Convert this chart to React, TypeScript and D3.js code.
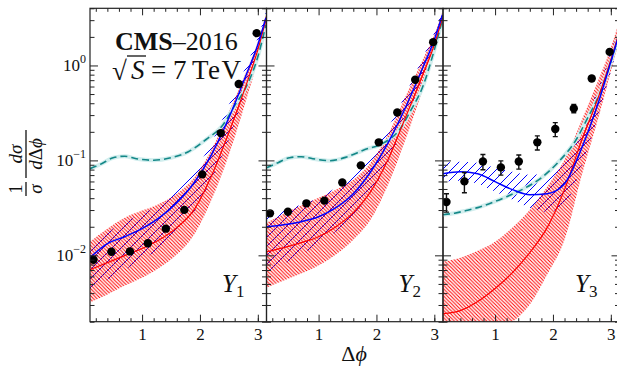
import * as d3 from 'd3'
import { useEffect, useRef } from 'react'

const WIDTH = 617
const HEIGHT = 367

// Δφ grids on which the curves were read
const modelPhi = [0.1, 0.4, 0.7, 1.0, 1.3, 1.6, 1.9, 2.2, 2.5, 2.8, 3.0, 3.14]
const tealPhi = [0.1, 0.3, 0.5, 0.7, 0.9, 1.2, 1.5, 1.8, 2.1, 2.4, 2.6, 2.8, 3.0, 3.14]
const dataPhi = [0.16, 0.47, 0.79, 1.1, 1.41, 1.73, 2.04, 2.36, 2.67, 2.98]

// Y1
const dataY1 = [0.009, 0.0109, 0.011, 0.0134, 0.0191, 0.0301, 0.0713, 0.194, 0.637, 2.19]
const errY1 = [0.0005, 0.0006, 0.0006, 0.0007, 0.001, 0.0015, 0.003, 0.008, 0.025, 0.08]
const redY1 = [0.00707, 0.00838, 0.00993, 0.0118, 0.0146, 0.0196, 0.0303, 0.069, 0.196, 0.626, 1.46, 3.03]
const redHiY1 = [0.0139, 0.0191, 0.0249, 0.0296, 0.035, 0.0446, 0.0657, 0.13, 0.326, 0.859, 1.78, 3.42]
const redLoY1 = [0.00318, 0.00386, 0.0048, 0.00582, 0.00742, 0.0102, 0.0166, 0.0386, 0.115, 0.435, 1.15, 2.68]
const blueY1 = [0.00946, 0.0133, 0.0157, 0.0191, 0.0249, 0.0359, 0.0582, 0.115, 0.281, 0.798, 1.65, 3.18]
const blueHiY1 = [0.0124, 0.0173, 0.0226, 0.0275, 0.0342, 0.0469, 0.076, 0.153, 0.386, 0.993, 1.96, 3.67]
const blueLoY1 = [0.00415, 0.00555, 0.00707, 0.009, 0.0118, 0.0169, 0.0288, 0.0627, 0.165, 0.555, 1.3, 2.88]
const tealY1 = [0.0818, 0.0923, 0.1067, 0.1107, 0.1042, 0.1005, 0.1067, 0.1235, 0.165, 0.238, 0.377, 0.597, 1.235, 2.68]

// Y2
const dataY2 = [0.0277, 0.0288, 0.0353, 0.0377, 0.0586, 0.0886, 0.155, 0.32, 0.707, 1.76]
const errY2 = [0.0012, 0.0012, 0.0014, 0.0015, 0.0022, 0.0035, 0.006, 0.012, 0.028, 0.07]
const redY2 = [0.0109, 0.01205, 0.0136, 0.0157, 0.02005, 0.0282, 0.0469, 0.102, 0.281, 0.798, 1.65, 3.18]
const redHiY2 = [0.0221, 0.0275, 0.0334, 0.0405, 0.0492, 0.0627, 0.0946, 0.187, 0.469, 1.15, 2.1, 3.67]
const redLoY2 = [0.00457, 0.00542, 0.00642, 0.0078, 0.0102, 0.0146, 0.0238, 0.0555, 0.165, 0.555, 1.3, 2.88]
const blueY2 = [0.02005, 0.021, 0.0226, 0.0255, 0.0318, 0.0446, 0.076, 0.153, 0.359, 0.946, 1.87, 3.42]
const blueHiY2 = [0.0275, 0.0303, 0.0342, 0.0405, 0.0516, 0.0707, 0.115, 0.221, 0.492, 1.21, 2.21, 3.86]
const blueLoY2 = [0.00673, 0.00818, 0.0102, 0.0133, 0.0178, 0.0268, 0.0457, 0.097, 0.255, 0.742, 1.54, 3.03]
const tealY2 = [0.0838, 0.0946, 0.1067, 0.1094, 0.1042, 0.0993, 0.1094, 0.13, 0.15, 0.211, 0.342, 0.597, 1.46, 3.03]

// Y3
const dataY3 = [0.0365, 0.0601, 0.0975, 0.0844, 0.0975, 0.155, 0.214, 0.353, 0.73, 1.39]
const errY3 = [0.008, 0.0145, 0.0178, 0.0144, 0.0165, 0.0262, 0.036, 0.035, 0.05, 0.08]
const redY3 = [0.00243, 0.00262, 0.00326, 0.00447, 0.00658, 0.0107, 0.0196, 0.0492, 0.165, 0.492, 1.15, 2.21]
const redHiY3 = [0.00859, 0.00946, 0.0112, 0.0139, 0.0196, 0.0303, 0.0529, 0.102, 0.268, 0.742, 1.54, 2.88]
const redLoY3 = [0.0013, 0.00136, 0.0015, 0.00173, 0.002, 0.00303, 0.00627, 0.0146, 0.0707, 0.303, 0.859, 1.78]
const blueY3 = [0.0724, 0.076, 0.0724, 0.0597, 0.0492, 0.0435, 0.0446, 0.0569, 0.136, 0.435, 1.09, 2.1]
const blueHiY3 = [0.0946, 0.0969, 0.0946, 0.0838, 0.076, 0.0707, 0.0743, 0.102, 0.221, 0.626, 1.39, 2.68]
const blueLoY3 = [0.0597, 0.0611, 0.0569, 0.0469, 0.0386, 0.0318, 0.0288, 0.0342, 0.0901, 0.326, 0.859, 1.78]
const tealY3 = [0.0268, 0.0278, 0.0296, 0.0318, 0.035, 0.0415, 0.0505, 0.0657, 0.097, 0.165, 0.281, 0.492, 1.09, 2.1]

const panelNames = ['1', '2', '3']
const xMajor = [1, 2, 3]
const xMinor = [0.2, 0.4, 0.6, 0.8, 1.2, 1.4, 1.6, 1.8, 2.2, 2.4, 2.6, 2.8, 3.0]
const yMajor = [0.01, 0.1, 1]
const yLabels = ['0', '−1', '−2']
const yLabelValues = [1, 0.1, 0.01]

const panels = [
  { data: dataY1, err: errY1, red: redY1, redHi: redHiY1, redLo: redLoY1, blue: blueY1, blueHi: blueHiY1, blueLo: blueLoY1, teal: tealY1 },
  { data: dataY2, err: errY2, red: redY2, redHi: redHiY2, redLo: redLoY2, blue: blueY2, blueHi: blueHiY2, blueLo: blueLoY2, teal: tealY2 },
  { data: dataY3, err: errY3, red: redY3, redHi: redHiY3, redLo: redLoY3, blue: blueY3, blueHi: blueHiY3, blueLo: blueLoY3, teal: tealY3 },
]

const SERIF = "'Liberation Serif', 'DejaVu Serif', serif"

function draw(el: SVGSVGElement) {
  const svg = d3.select(el)
  svg.selectAll('*').remove()

  const top = 8.3
  const bottom = 321.7
  const left = 90
  const panelW = 176.5

  const y = d3.scaleLog().domain([0.002, 4]).range([bottom, top])
  const yMinor = y.ticks().filter((t) => Math.abs(Math.log10(t) - Math.round(Math.log10(t))) > 1e-6)

  const defs = svg.append('defs')
  const rw = 3.6
  defs
    .append('pattern')
    .attr('id', 'hatch-red')
    .attr('patternUnits', 'userSpaceOnUse')
    .attr('width', rw)
    .attr('height', rw)
    .append('path')
    .attr('d', `M0,0L${rw},${rw}M-1,${rw - 1}L1,${rw + 1}M${rw - 1},-1L${rw + 1},1`)
    .attr('stroke', '#ff0000')
    .attr('stroke-width', 1)
  const bw = 9
  defs
    .append('pattern')
    .attr('id', 'hatch-blue')
    .attr('patternUnits', 'userSpaceOnUse')
    .attr('width', bw)
    .attr('height', bw)
    .append('path')
    .attr('d', `M0,${bw}L${bw},0M-1,1L1,-1M${bw - 1},${bw + 1}L${bw + 1},${bw - 1}`)
    .attr('stroke', '#0000ff')
    .attr('stroke-width', 1)

  panels.forEach((p, i) => {
    const x0 = left + i * panelW
    const x = d3.scaleLinear().domain([0.1, 3.15]).range([x0, x0 + panelW])
    const g = svg.append('g')

    const clipId = `clip-${i}`
    defs
      .append('clipPath')
      .attr('id', clipId)
      .append('rect')
      .attr('x', x0)
      .attr('y', top)
      .attr('width', panelW)
      .attr('height', bottom - top)
    const plot = g.append('g').attr('clip-path', `url(#${clipId})`)

    const band = (lo: number[], hi: number[]) =>
      d3
        .area<number>()
        .x((d) => x(d))
        .y0((_, j) => y(lo[j]))
        .y1((_, j) => y(hi[j]))
        .curve(d3.curveMonotoneX)(modelPhi)
    const line = (phi: number[], vals: number[]) =>
      d3
        .line<number>()
        .x((d) => x(d))
        .y((_, j) => y(vals[j]))
        .curve(d3.curveMonotoneX)(phi)

    plot.append('path').attr('d', band(p.blueLo, p.blueHi)).attr('fill', 'url(#hatch-blue)')
    plot.append('path').attr('d', band(p.redLo, p.redHi)).attr('fill', 'url(#hatch-red)')

    // teal: faint band + dashed line
    plot
      .append('path')
      .attr('d', line(tealPhi, p.teal))
      .attr('fill', 'none')
      .attr('stroke', '#d2eeee')
      .attr('stroke-width', 4)
    plot
      .append('path')
      .attr('d', line(tealPhi, p.teal))
      .attr('fill', 'none')
      .attr('stroke', '#138787')
      .attr('stroke-width', 1.6)
      .attr('stroke-dasharray', '7,4')

    plot
      .append('path')
      .attr('d', line(modelPhi, p.red))
      .attr('fill', 'none')
      .attr('stroke', '#ff0000')
      .attr('stroke-width', 1.2)
    plot
      .append('path')
      .attr('d', line(modelPhi, p.blue))
      .attr('fill', 'none')
      .attr('stroke', '#0000ff')
      .attr('stroke-width', 1.5)

    // data points with error bars
    const pts = plot
      .selectAll('g.pt')
      .data(p.data.map((v, j) => ({ phi: dataPhi[j], v, e: p.err[j] })))
      .join('g')
      .attr('class', 'pt')
    pts
      .append('path')
      .attr('d', (d) => {
        const cx = x(d.phi)
        const y1 = y(d.v + d.e)
        const y2 = y(Math.max(d.v - d.e, 1e-4))
        return `M${cx},${y1}V${y2}M${cx - 2.5},${y1}H${cx + 2.5}M${cx - 2.5},${y2}H${cx + 2.5}`
      })
      .attr('stroke', '#111')
      .attr('stroke-width', 1.4)
      .attr('fill', 'none')
    pts
      .append('circle')
      .attr('cx', (d) => x(d.phi))
      .attr('cy', (d) => y(d.v))
      .attr('r', 4.2)
      .attr('fill', '#000')

    // axes (ticks inward on all four sides)
    const tickColor = '#222'
    const styleAxis = (a: d3.Selection<SVGGElement, unknown, null, undefined>) => {
      a.select('.domain').remove()
      a.selectAll('line').attr('stroke', tickColor)
    }
    const bottomAxis = g
      .append('g')
      .attr('transform', `translate(0,${bottom})`)
      .call(d3.axisBottom(x).tickValues(xMajor).tickSize(-7).tickPadding(6).tickFormat(d3.format('d')))
      .attr('font-family', SERIF)
    bottomAxis.call(styleAxis)
    bottomAxis.selectAll('text').attr('font-family', SERIF).attr('font-size', 17).attr('fill', '#111')
    g.append('g')
      .attr('transform', `translate(0,${bottom})`)
      .call(d3.axisBottom(x).tickValues(xMinor).tickSize(-3.5).tickFormat(() => ''))
      .call(styleAxis)
    g.append('g')
      .attr('transform', `translate(0,${top})`)
      .call(d3.axisTop(x).tickValues(xMajor).tickSize(-7).tickFormat(() => ''))
      .call(styleAxis)
    g.append('g')
      .attr('transform', `translate(0,${top})`)
      .call(d3.axisTop(x).tickValues(xMinor).tickSize(-3.5).tickFormat(() => ''))
      .call(styleAxis)
    g.append('g')
      .attr('transform', `translate(${x0},0)`)
      .call(d3.axisLeft(y).tickValues(yMajor).tickSize(-8).tickFormat(() => ''))
      .call(styleAxis)
    g.append('g')
      .attr('transform', `translate(${x0},0)`)
      .call(d3.axisLeft(y).tickValues(yMinor).tickSize(-4.5).tickFormat(() => ''))
      .call(styleAxis)
    g.append('g')
      .attr('transform', `translate(${x0 + panelW},0)`)
      .call(d3.axisRight(y).tickValues(yMajor).tickSize(-8).tickFormat(() => ''))
      .call(styleAxis)
    g.append('g')
      .attr('transform', `translate(${x0 + panelW},0)`)
      .call(d3.axisRight(y).tickValues(yMinor).tickSize(-4.5).tickFormat(() => ''))
      .call(styleAxis)

    g.append('rect')
      .attr('x', x0)
      .attr('y', top)
      .attr('width', panelW)
      .attr('height', bottom - top)
      .attr('fill', 'none')
      .attr('stroke', '#222')
      .attr('stroke-width', 1.2)

    // panel name Y_i
    const name = g
      .append('text')
      .attr('x', x0 + 132)
      .attr('y', 292)
      .attr('font-family', SERIF)
      .attr('font-size', 25)
      .attr('fill', '#111')
    name.append('tspan').attr('font-style', 'italic').text('Y')
    name.append('tspan').attr('font-size', 17).attr('dy', 5).text(panelNames[i])
  })

  // y tick labels (left panel only)
  yLabelValues.forEach((v, i) => {
    const t = svg
      .append('text')
      .attr('x', 86)
      .attr('y', y(v) + 6)
      .attr('text-anchor', 'end')
      .attr('font-family', SERIF)
      .attr('font-size', 17)
      .attr('fill', '#111')
    t.append('tspan').text('10')
    t.append('tspan').attr('font-size', 12).attr('dy', -8).text(yLabels[i])
  })

  // x-axis title
  const xt = svg
    .append('text')
    .attr('x', 354)
    .attr('y', 361)
    .attr('text-anchor', 'middle')
    .attr('font-family', SERIF)
    .attr('font-size', 22)
    .attr('fill', '#111')
  xt.append('tspan').text('Δ')
  xt.append('tspan').attr('font-style', 'italic').text('ϕ')

  // y-axis title: (1/σ)(dσ/dΔφ), rotated
  const yt = svg.append('g').attr('transform', 'translate(26,163) rotate(-90)').attr('font-family', SERIF).attr('fill', '#111')
  yt.append('line').attr('x1', -33).attr('x2', -19).attr('y1', 0).attr('y2', 0).attr('stroke', '#111').attr('stroke-width', 1.3)
  yt.append('line').attr('x1', -15).attr('x2', 33).attr('y1', 0).attr('y2', 0).attr('stroke', '#111').attr('stroke-width', 1.3)
  yt.append('text').attr('x', -26).attr('y', -4).attr('text-anchor', 'middle').attr('font-size', 19).text('1')
  yt.append('text').attr('x', -26).attr('y', 16).attr('text-anchor', 'middle').attr('font-size', 19).attr('font-style', 'italic').text('σ')
  yt.append('text').attr('x', 9).attr('y', -4).attr('text-anchor', 'middle').attr('font-size', 19).attr('font-style', 'italic').text('dσ')
  const den = yt.append('text').attr('x', 9).attr('y', 16).attr('text-anchor', 'middle').attr('font-size', 19)
  den.append('tspan').attr('font-style', 'italic').text('d')
  den.append('tspan').text('Δ')
  den.append('tspan').attr('font-style', 'italic').text('ϕ')

  // CMS label
  const cms = svg.append('text').attr('x', 115).attr('y', 50).attr('font-family', SERIF).attr('font-size', 26).attr('fill', '#111')
  cms.append('tspan').attr('font-weight', 'bold').text('CMS')
  cms.append('tspan').text('–2016')

  const energy = svg.append('g').attr('font-family', SERIF).attr('font-size', 27).attr('fill', '#111')
  energy.append('text').attr('x', 112).attr('y', 80).text('√')
  energy.append('text').attr('x', 131).attr('y', 79).attr('font-style', 'italic').text('S')
  energy.append('line').attr('x1', 127).attr('x2', 146).attr('y1', 56).attr('y2', 56).attr('stroke', '#111').attr('stroke-width', 1.3)
  energy.append('text').attr('x', 151).attr('y', 79).text('=')
  energy.append('text').attr('x', 173).attr('y', 79).text('7')
  energy.append('text').attr('x', 192).attr('y', 79).attr('letter-spacing', 1.5).text('TeV')
}

export default function App() {
  const ref = useRef<SVGSVGElement>(null)
  useEffect(() => {
    if (ref.current) draw(ref.current)
  }, [])
  return (
    <svg
      ref={ref}
      width={WIDTH}
      height={HEIGHT}
      style={{ position: 'absolute', left: 0, top: 0, background: '#fff' }}
    />
  )
}
